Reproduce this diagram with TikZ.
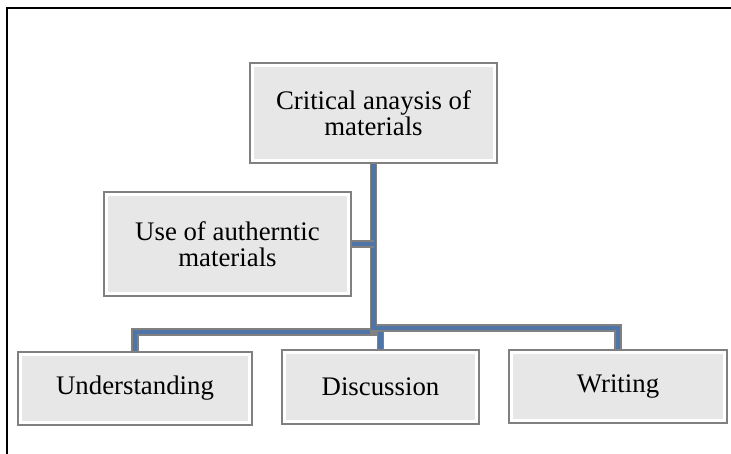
\documentclass[tikz,border=0pt]{standalone}
\usepackage{fontspec}
\setmainfont{Liberation Serif}
\usetikzlibrary{backgrounds}
\definecolor{boxfill}{RGB}{231,231,231}
\definecolor{boxline}{RGB}{128,128,128}
\definecolor{linkblue}{RGB}{79,116,168}

\tikzset{
    block/.style={fill=boxfill, draw=white, line width=3pt,
        preaction={draw=boxline, line width=7pt},
        align=center, inner sep=0pt, font=\fontsize{26.8}{26}\selectfont},
    link/.style={draw=boxline, line width=1.8pt, double=linkblue, double distance=4.3pt}
}

\begin{document}
\begin{tikzpicture}[x=1pt, y=-1pt]
    \useasboundingbox (0,0) rectangle (731,454);
    % Frame
    \draw[line width=1.6pt] (7,460) -- (7,8) -- (740,8);

    % Top level
    \node[block, minimum width=242, minimum height=95] (crit) at (373.5,113) {Critical anaysis of\\materials};
    \node[block, minimum width=242, minimum height=99] (asst) at (227.5,244) {Use of autherntic\\materials};

    % Bottom level
    \node[block, minimum width=229, minimum height=68] (und) at (135,388.5) {Understanding};
    \node[block, minimum width=192, minimum height=69] (disc) at (380.5,387) {Discussion};
    \node[block, minimum width=213, minimum height=68] (writ) at (618,386.5) {Writing};

    % Connectors
    \coordinate (barU) at (0,332);
    \coordinate (barD) at (0,330);
    \coordinate (barW) at (0,328);
    \begin{scope}[on background layer]
        \fill[white] (0,0) rectangle (731,454);
        \draw[link] (crit.center) -- (crit.center |- barU) -| (und.center);
        \draw[link] (crit.center) -- (crit.center |- barD) -| (disc.center);
        \draw[link] (crit.center) -- (crit.center |- barW) -| (writ.center);
        \draw[link] (crit.center |- asst.east) -- (asst.center);
    \end{scope}
\end{tikzpicture}
\end{document}
